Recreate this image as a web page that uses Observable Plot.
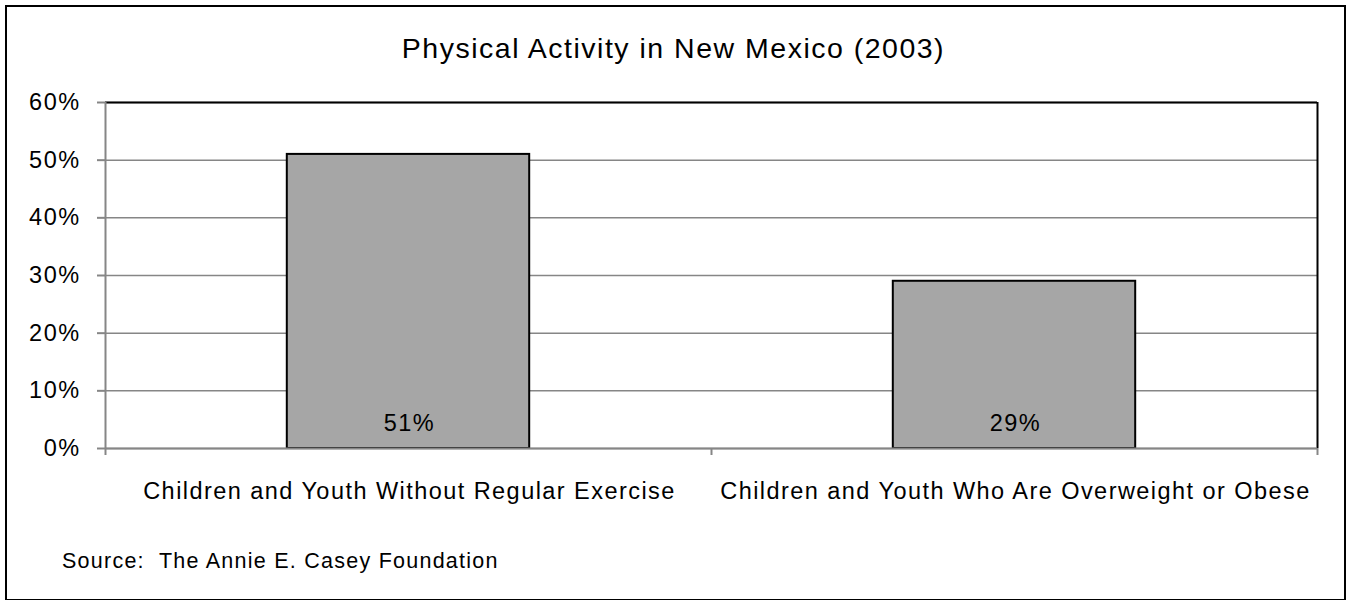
<!DOCTYPE html>
<html>
<head>
<meta charset="utf-8">
<script src="https://cdn.jsdelivr.net/npm/d3@7"></script>
<script src="https://cdn.jsdelivr.net/npm/@observablehq/plot@0.6"></script>
<style>
  html, body { margin: 0; padding: 0; background: #fff; }
  body { width: 1347px; height: 600px; position: relative; overflow: hidden; font-family: "Liberation Sans", Arial, sans-serif; color: #000; }
  #frame { position: absolute; left: 5px; top: 5px; width: 1341px; height: 596px; border: 2px solid #000; box-sizing: border-box; }
  #title { position: absolute; left: 0; width: 1347px; top: 34px; text-align: center; font-size: 28.5px; line-height: 1; letter-spacing: 1.5px; }
  #chart { position: absolute; left: 0; top: 80px; }
  #chart svg text { letter-spacing: 1.45px; }
  #source { position: absolute; left: 62px; top: 551px; font-size: 21.5px; line-height: 1; white-space: pre; letter-spacing: 1.25px; }
</style>
</head>
<body>
<div id="frame"></div>
<div id="title">Physical Activity in New Mexico (2003)</div>
<div id="chart"></div>
<div id="source">Source:  The Annie E. Casey Foundation</div>
<script>
const categories = ["Children and Youth Without Regular Exercise", "Children and Youth Who Are Overweight or Obese"];
const values = [0.51, 0.29];
const valueLabels = ["51%", "29%"];
const yTicks = [0, 0.1, 0.2, 0.3, 0.4, 0.5, 0.6];

const data = categories.map((c, i) => ({ category: c, index: i, value: values[i], label: valueLabels[i] }));
const gap = 0.3; // Excel gap width 150%: bar fills the middle 40% of each category slot
const boundaries = d3.range(categories.length + 1);
const centers = categories.map((c, i) => i + 0.5);

const plot = Plot.plot({
  width: 1347,
  height: 450,
  marginLeft: 105,
  marginRight: 30,
  marginTop: 22,
  marginBottom: 82,
  style: { fontFamily: "Liberation Sans, Arial, sans-serif", fontSize: "23.5px", color: "#000", background: "transparent", overflow: "visible" },
  x: { domain: [0, categories.length], axis: null, label: null },
  y: { domain: [0, 0.6], axis: null, label: null },
  marks: [
    Plot.ruleY(yTicks, { stroke: "#868686", strokeWidth: 1.5 }),
    Plot.rectY(data, { x1: d => d.index + gap, x2: d => d.index + 1 - gap, y1: 0, y2: "value", fill: "#a6a6a6", stroke: "#000", strokeWidth: 2 }),
    Plot.text(data, { x: d => d.index + 0.5, y: 0, text: "label", dy: -25, dx: 1, fontSize: 23.5, fill: "#000" }),
    Plot.ruleY([0.6], { stroke: "#000", strokeWidth: 2 }),
    Plot.ruleX([categories.length], { stroke: "#000", strokeWidth: 2 }),
    Plot.ruleX([0], { stroke: "#868686", strokeWidth: 2 }),
    Plot.ruleY([0], { stroke: "#868686", strokeWidth: 2 }),
    Plot.axisY(yTicks, { anchor: "left", label: null, tickSize: 8, tickPadding: 17, stroke: "#868686", strokeWidth: 2, tickFormat: d => Math.round(d * 100) + "%", fontSize: 23.5, fill: "#000" }),
    Plot.axisX(boundaries, { anchor: "bottom", label: null, tickSize: 7, stroke: "#868686", strokeWidth: 2, tickFormat: () => "" }),
    Plot.axisX(centers, { anchor: "bottom", label: null, tickSize: 0, tickPadding: 34, dx: 1, tickFormat: d => categories[Math.floor(d)], fontSize: 23.5, fill: "#000" })
  ]
});
document.getElementById("chart").appendChild(plot);
</script>
</body>
</html>
